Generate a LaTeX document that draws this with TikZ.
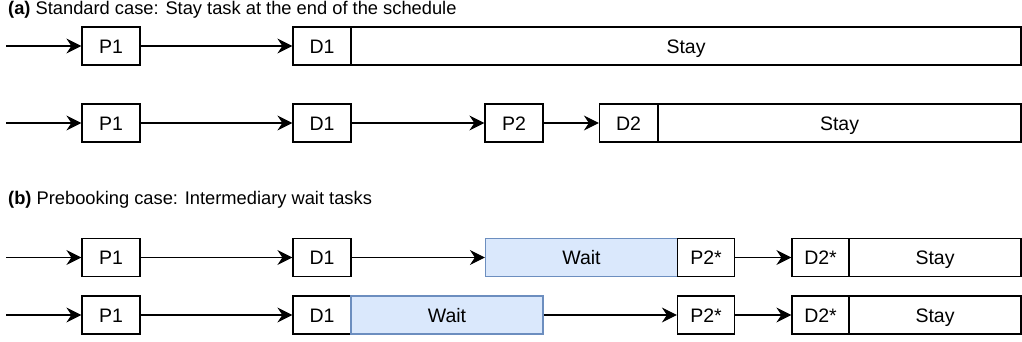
\documentclass[tikz,border=0pt]{standalone}
\usepackage{fontspec}
\setmainfont{Liberation Sans}
\usetikzlibrary{arrows.meta}
\definecolor{waitfill}{HTML}{DAE8FC}
\definecolor{waitdraw}{HTML}{6C8EBF}
\tikzset{
  task/.style={draw=black, line width=1.2pt, minimum height=38pt, inner sep=0pt,
    text height=14pt, text depth=0pt,
    font=\fontsize{19.5pt}{22pt}\selectfont},
  waittask/.style={task, draw=waitdraw, fill=waitfill},
  flow/.style={line width=1.2pt, -{Stealth[length=15pt,width=15pt,inset=5pt]}},
  caption/.style={anchor=west, inner sep=0pt, font=\fontsize{18.3pt}{20pt}\selectfont}
}
\begin{document}
\begin{tikzpicture}[x=1pt, y=-1pt]
\useasboundingbox (0,0) rectangle (1022,341);

% (a) standard case
\node[caption] (capa) at (8,10) {\textbf{(a)} Standard case: Stay task at the end of the schedule};

% row 1
\coordinate (s1) at (6,46);
\node[task, minimum width=58pt] (p1a) at (111,46) {P1};
\node[task, minimum width=58pt] (d1a) at (322,46) {D1};
\node[task, minimum width=670pt] (sta) at (686,46) {Stay};
\draw[flow] (s1) -- (p1a);
\draw[flow] (p1a) -- (d1a);

% row 2
\coordinate (s2) at (6,123);
\node[task, minimum width=58pt] (p1b) at (111,123) {P1};
\node[task, minimum width=58pt] (d1b) at (322,123) {D1};
\node[task, minimum width=58pt] (p2b) at (514,123) {P2};
\node[task, minimum width=58pt] (d2b) at (628.5,123) {D2};
\node[task, minimum width=363pt] (stb) at (839.5,123) {Stay};
\draw[flow] (s2) -- (p1b);
\draw[flow] (p1b) -- (d1b);
\draw[flow] (d1b) -- (p2b);
\draw[flow] (p2b) -- (d2b);

% (b) prebooking case
\node[caption] (capb) at (8,200) {\textbf{(b)} Prebooking case: Intermediary wait tasks};

% row 3
\coordinate (s3) at (6,257.5);
\node[task, minimum width=58pt] (p1c) at (111,257.5) {P1};
\node[task, minimum width=58pt] (d1c) at (322,257.5) {D1};
\node[waittask, minimum width=192pt] (wc) at (581.5,257.5) {Wait};
\node[task, minimum width=57pt] (p2c) at (706,257.5) {P2*};
\node[task, minimum width=57pt] (d2c) at (820.5,257.5) {D2*};
\node[task, minimum width=172pt] (stc) at (935,257.5) {Stay};
\draw[flow] (s3) -- (p1c);
\draw[flow] (p1c) -- (d1c);
\draw[flow] (d1c) -- (wc);
\draw[flow] (p2c) -- (d2c);

% row 4
\coordinate (s4) at (6,315);
\node[task, minimum width=58pt] (p1d) at (111,315) {P1};
\node[task, minimum width=58pt] (d1d) at (322,315) {D1};
\node[waittask, minimum width=192pt] (wd) at (447,315) {Wait};
\node[task, minimum width=57pt] (p2d) at (706,315) {P2*};
\node[task, minimum width=57pt] (d2d) at (820.5,315) {D2*};
\node[task, minimum width=172pt] (std) at (935,315) {Stay};
\draw[flow] (s4) -- (p1d);
\draw[flow] (p1d) -- (d1d);
\draw[flow] (wd) -- (p2d);
\draw[flow] (p2d) -- (d2d);
\end{tikzpicture}
\end{document}
